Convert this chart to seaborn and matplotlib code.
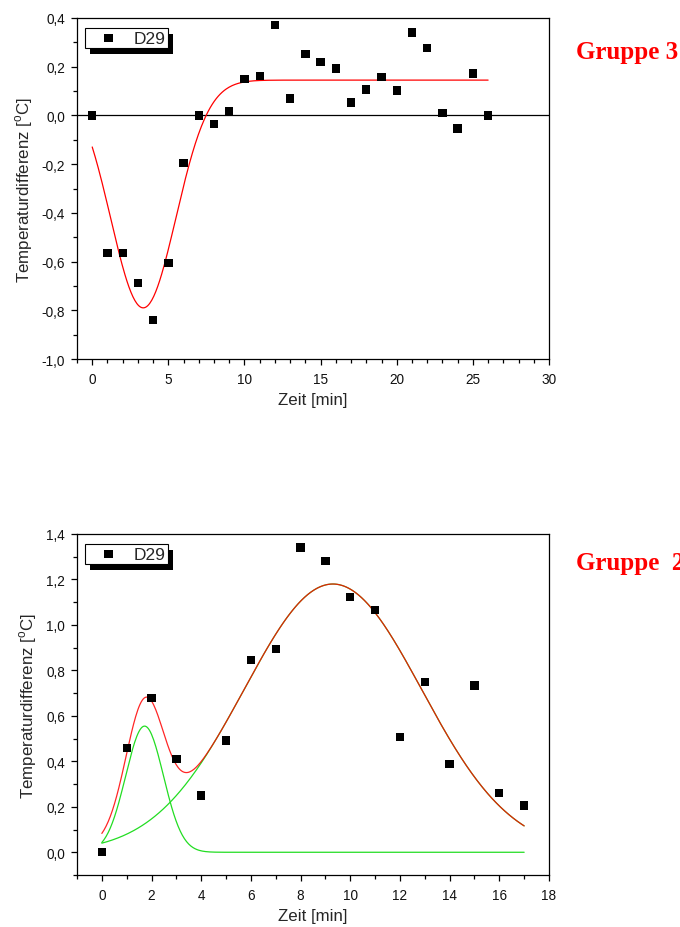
import numpy as np
import pandas as pd
import matplotlib
matplotlib.use("Agg")
import matplotlib.pyplot as plt
from matplotlib.ticker import MultipleLocator, FuncFormatter
from matplotlib.patches import Rectangle
import seaborn as sns

# ---------------- data ----------------
# Top panel (Gruppe 3)
top_time = list(range(0, 27))
top_diff = [0.0, -0.565, -0.565, -0.688, -0.84, -0.605, -0.195, 0.0, -0.035, 0.016,
            0.15, 0.162, 0.37, 0.069, 0.252, 0.218, 0.192, 0.053, 0.106, 0.158,
            0.102, 0.34, 0.277, 0.011, -0.054, 0.172, 0.0]
# Gaussian fit: baseline, amplitude, centre, width
top_fit_base = 0.145
top_fit_amp = -0.935
top_fit_center = 3.35
top_fit_width = 2.14
top_fit_range = [0, 26]

# Bottom panel (Gruppe 2)
bot_time = list(range(0, 18))
bot_diff = [0.0, 0.46, 0.68, 0.41, 0.249, 0.491, 0.847, 0.895, 1.34, 1.282,
            1.124, 1.067, 0.508, 0.749, 0.388, 0.733, 0.261, 0.205]
# two-peak Gaussian fit (green = single peaks, red = sum)
bot_peak_amp = [0.555, 1.18]
bot_peak_center = [1.72, 9.3]
bot_peak_width = [0.76, 3.575]
bot_fit_base = 0.0
bot_fit_range = [0, 17]

series_label = "D29"
group_labels = ["Gruppe 3", "Gruppe  2"]
x_label = "Zeit [min]"
y_label = "Temperaturdifferenz [$^{\\rm o}$C]"


def gauss(x, a, c, w):
    return a * np.exp(-(x - c) ** 2 / (2 * w ** 2))


# ---------------- style ----------------
sns.set_theme(style="white")
plt.rcParams["font.family"] = ["Liberation Sans", "DejaVu Sans"]
plt.rcParams["mathtext.fontset"] = "custom"
plt.rcParams["mathtext.rm"] = "Liberation Sans"
plt.rcParams["axes.edgecolor"] = "black"
plt.rcParams["axes.linewidth"] = 0.9

fig = plt.figure(figsize=(6.8, 9.28), dpi=100)
ax1 = fig.add_axes([77 / 680, 1 - 360 / 928, 472 / 680, 341 / 928])
ax2 = fig.add_axes([77 / 680, 1 - 876 / 928, 472 / 680, 341 / 928])

comma = FuncFormatter(lambda v, p: f"{v:.1f}".replace(".", ",").replace("-0,0", "0,0"))
intfmt = FuncFormatter(lambda v, p: f"{v:.0f}")

# top panel
df_top = pd.DataFrame({"t": top_time, "d": top_diff})
xt = np.linspace(top_fit_range[0], top_fit_range[1], 400)
df_top_fit = pd.DataFrame({"t": xt, "d": top_fit_base + gauss(xt, top_fit_amp, top_fit_center, top_fit_width)})
ax1.axhline(0, color="black", lw=0.9, zorder=1)
sns.lineplot(data=df_top_fit, x="t", y="d", ax=ax1, color="#ff0000", lw=0.9, zorder=2)
sns.scatterplot(data=df_top, x="t", y="d", ax=ax1, marker="s", s=36, color="black",
                edgecolor="none", label=series_label, zorder=3)
ax1.set_xlim(-1, 30)
ax1.set_ylim(-1.0, 0.4)
ax1.xaxis.set_major_locator(MultipleLocator(5))
ax1.xaxis.set_minor_locator(MultipleLocator(1))
ax1.yaxis.set_major_locator(MultipleLocator(0.2))
ax1.yaxis.set_minor_locator(MultipleLocator(0.1))
ax1.yaxis.set_major_formatter(comma)
ax1.xaxis.set_major_formatter(intfmt)

# bottom panel
df_bot = pd.DataFrame({"t": bot_time, "d": bot_diff})
xb = np.linspace(bot_fit_range[0], bot_fit_range[1], 400)
p1 = gauss(xb, bot_peak_amp[0], bot_peak_center[0], bot_peak_width[0])
p2 = gauss(xb, bot_peak_amp[1], bot_peak_center[1], bot_peak_width[1])
df_p1 = pd.DataFrame({"t": xb, "d": bot_fit_base + p1})
df_p2 = pd.DataFrame({"t": xb, "d": bot_fit_base + p2})
df_sum = pd.DataFrame({"t": xb, "d": bot_fit_base + p1 + p2})
sns.lineplot(data=df_p1, x="t", y="d", ax=ax2, color="#22dd22", lw=0.9, zorder=2)
sns.lineplot(data=df_p2, x="t", y="d", ax=ax2, color="#22dd22", lw=0.9, zorder=2)
sns.lineplot(data=df_sum, x="t", y="d", ax=ax2, color="#ff0000", lw=0.9, alpha=0.85, zorder=2.5)
sns.scatterplot(data=df_bot, x="t", y="d", ax=ax2, marker="s", s=36, color="black",
                edgecolor="none", label=series_label, zorder=3)
ax2.set_xlim(-1, 18)
ax2.set_ylim(-0.1, 1.4)
ax2.xaxis.set_major_locator(MultipleLocator(2))
ax2.xaxis.set_minor_locator(MultipleLocator(1))
ax2.yaxis.set_major_locator(MultipleLocator(0.2))
ax2.yaxis.set_minor_locator(MultipleLocator(0.1))
ax2.yaxis.set_major_formatter(comma)
ax2.xaxis.set_major_formatter(intfmt)

for ax in (ax1, ax2):
    ax.set_facecolor("white")
    for s in ax.spines.values():
        s.set_visible(True)
        s.set_color("black")
        s.set_linewidth(0.9)
    ax.tick_params(which="major", direction="out", length=4.5, width=0.9, color="black",
                   labelsize=9.8, labelcolor="#111111", bottom=True, left=True, top=False, right=False)
    ax.tick_params(which="minor", direction="out", length=3, width=0.9, color="black",
                   bottom=True, left=True, top=False, right=False)
    ax.tick_params(axis="x", which="major", pad=5)
    ax.tick_params(axis="y", which="major", pad=4)
    ax.set_xlabel(x_label, fontsize=12.2, labelpad=4.5)
    ax.set_ylabel(y_label, fontsize=12.2, labelpad=5)
    ax.grid(False)

legs = []
for ax in (ax1, ax2):
    leg = ax.legend(loc="upper left", bbox_to_anchor=(8 / 472, 1 - 10 / 341), borderaxespad=0,
                    frameon=True, fancybox=False, edgecolor="black", framealpha=1,
                    fontsize=12.5, handlelength=2.4, handletextpad=0.25, borderpad=0.15,
                    markerscale=1.0)
    leg.get_frame().set_linewidth(0.8)
    leg.set_zorder(6)
    legs.append(leg)

fig.text(576 / 680, 1 - 59 / 928, group_labels[0], color="#ff0000", fontsize=18,
         fontweight="bold", family=["Liberation Serif", "DejaVu Serif"], va="baseline", ha="left")
fig.text(576 / 680, 1 - 570 / 928, group_labels[1], color="#ff0000", fontsize=18,
         fontweight="bold", family=["Liberation Serif", "DejaVu Serif"], va="baseline", ha="left")

# legend drop shadow (solid black, offset)
fig.canvas.draw()
for ax, leg in zip((ax1, ax2), legs):
    bb = leg.get_window_extent()
    inv = ax.transAxes.inverted()
    (x0, y0) = inv.transform((bb.x0 + 5, bb.y0 - 6))
    (x1, y1) = inv.transform((bb.x1 + 5, bb.y1 - 6))
    ax.add_patch(Rectangle((x0, y0), x1 - x0, y1 - y0, transform=ax.transAxes,
                           facecolor="black", edgecolor="none", zorder=5.5, clip_on=False))

fig.savefig("out.png", dpi=100, facecolor="white")
